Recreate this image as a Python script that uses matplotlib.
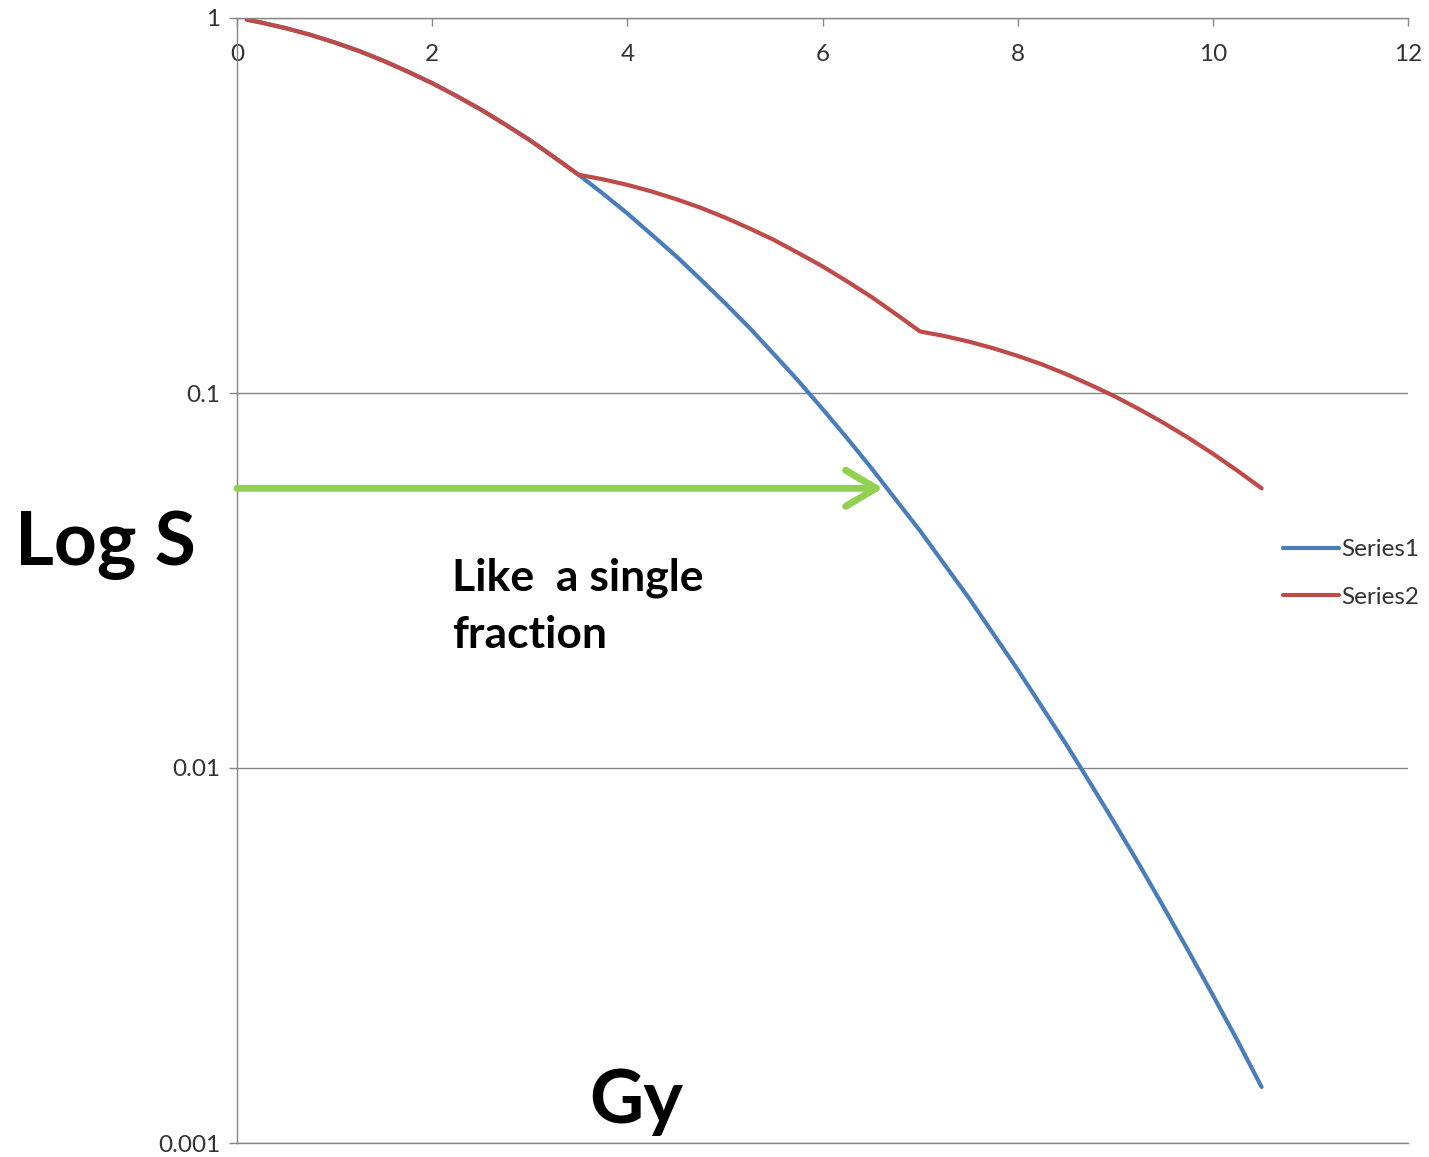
import matplotlib.pyplot as plt
import matplotlib.ticker as mticker

plt.rcParams['font.family'] = ['Lato', 'DejaVu Sans']

# dose (Gy)
dose = [0.1, 0.25, 0.5, 0.75, 1.0, 1.25, 1.5, 1.75, 2.0, 2.25, 2.5, 2.75, 3.0,
        3.25, 3.5, 3.75, 4.0, 4.25, 4.5, 4.75, 5.0, 5.25, 5.5, 5.75, 6.0,
        6.25, 6.5, 6.75, 7.0, 7.25, 7.5, 7.75, 8.0, 8.25, 8.5, 8.75, 9.0,
        9.25, 9.5, 9.75, 10.0, 10.25, 10.5]

# single dose survival
series1 = [0.9896, 0.9724, 0.9394, 0.9023, 0.8607, 0.8167, 0.7691, 0.7196,
           0.6703, 0.6195, 0.5698, 0.5199, 0.4724, 0.4254, 0.3820, 0.3402,
           0.3012, 0.2643, 0.2317, 0.2010, 0.1738, 0.1494, 0.1271, 0.1079,
           0.0907, 0.0759, 0.0631, 0.0520, 0.0429, 0.0349, 0.0284, 0.0228,
           0.0183, 0.01454, 0.01153, 0.00906, 0.00708, 0.00550, 0.00424,
           0.00325, 0.00248, 0.00188, 0.00141]

# fractionated (3 x 3.5 Gy) survival
series2 = [0.9896, 0.9724, 0.9394, 0.9023, 0.8607, 0.8167, 0.7691, 0.7196,
           0.6703, 0.6195, 0.5698, 0.5199, 0.4724, 0.4254, 0.3820, 0.3714,
           0.3589, 0.3447, 0.3288, 0.3120, 0.2938, 0.2749, 0.2561, 0.2364,
           0.2177, 0.1986, 0.1805, 0.1625, 0.1459, 0.1419, 0.1371, 0.1316,
           0.1256, 0.1192, 0.1122, 0.1050, 0.0978, 0.0904, 0.0831, 0.0759,
           0.0689, 0.0621, 0.0557]

y_ticks = [0.001, 0.01, 0.1, 1]
y_labels = ['0.001', '0.01', '0.1', '1']
x_ticks = [0, 2, 4, 6, 8, 10, 12]

arrow_y = 0.0557
arrow_end = 6.62

W, H = 1429, 1157
fig = plt.figure(figsize=(W / 100, H / 100), dpi=100)
ax = fig.add_axes([237 / W, 1 - 1143 / H, (1408 - 237) / W, (1143 - 18) / H])

grey = '#868686'
ax.plot(dose, series1, color='#4A7EBB', lw=3, solid_capstyle='round',
        solid_joinstyle='round', label='Series1')
ax.plot(dose, series2, color='#BE4B48', lw=3, solid_capstyle='round',
        solid_joinstyle='round', label='Series2')

ax.set_yscale('log')
ax.set_xlim(0, 12)
ax.set_ylim(0.001, 1)
ax.yaxis.set_major_locator(mticker.FixedLocator(y_ticks))
ax.yaxis.set_major_formatter(mticker.FixedFormatter(y_labels))
ax.yaxis.set_minor_locator(mticker.NullLocator())
ax.set_xticks(x_ticks)
ax.xaxis.tick_top()
ax.tick_params(axis='x', direction='in', length=6, width=1, color=grey, pad=-34,
               labelsize=17.5, labelcolor='#333333')
ax.tick_params(axis='y', direction='out', length=6, width=1, color=grey, pad=6,
               labelsize=17.5, labelcolor='#333333')
ax.grid(axis='y', color=grey, lw=1)
ax.grid(axis='x', visible=False)
for side in ['top', 'left', 'bottom']:
    ax.spines[side].set_color(grey)
    ax.spines[side].set_linewidth(1)
ax.spines['right'].set_visible(False)

ax.annotate('', xy=(arrow_end, arrow_y), xytext=(0, arrow_y),
            arrowprops=dict(arrowstyle='->,head_length=1.1,head_width=0.65',
                            color='#92D050', lw=5, mutation_scale=20,
                            shrinkA=0, shrinkB=0, capstyle='round', joinstyle='round'),
            annotation_clip=False)

fig.text(452 / W, 1 - 648 / H, 'Like  a single\nfraction', fontsize=32, fontweight='bold',
         va='baseline', ha='left', linespacing=1.5)
fig.text(15 / W, 1 - 565 / H, 'Log S', fontsize=54, fontweight='bold', va='baseline', ha='left')
fig.text(636 / W, 1 - 1123 / H, 'Gy', fontsize=54, fontweight='bold', va='baseline', ha='center')

ax.legend(loc='center left', bbox_to_anchor=(1283 / W, 1 - 573.5 / H),
          bbox_transform=fig.transFigure, frameon=False, fontsize=17.5,
          handlelength=2.3, handletextpad=0.1, labelspacing=1.1,
          borderpad=0, borderaxespad=0, labelcolor='#333333')

fig.savefig('out.png', dpi=100)
